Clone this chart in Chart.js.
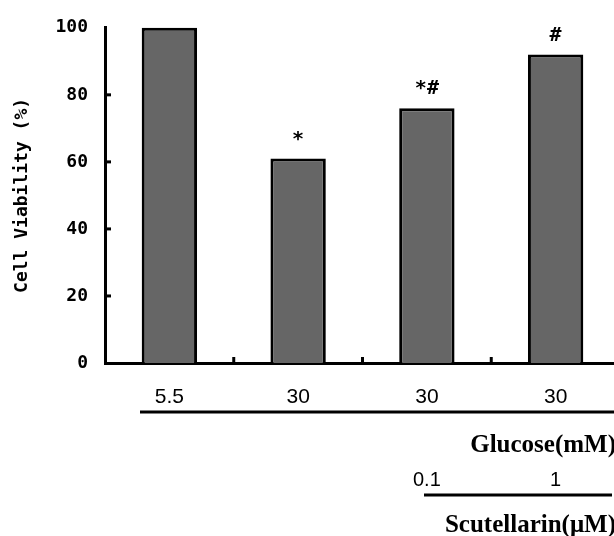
<!DOCTYPE html>
<html>
<head>
<meta charset="utf-8">
<script src="https://cdn.jsdelivr.net/npm/chart.js@4"></script>
<style>
  html, body { margin: 0; padding: 0; background: #fff; overflow: hidden; }
  #wrap { width: 620px; height: 536px; }
</style>
</head>
<body>
<div id="wrap"><canvas id="chart" width="620" height="536"></canvas></div>
<script>
// glucose (mM) per group, scutellarin (uM) per group, viability (%)
const glucoseLabels = ["5.5", "30", "30", "30"];
const scutellarinLabels = ["", "", "0.1", "1"];
const viability = [100, 61, 76, 92];
const marks = ["", "*", "*#", "#"];
const yTicks = [0, 20, 40, 60, 80, 100];

// inward axis ticks, significance marks and the two-row group legend under the axis
const extrasPlugin = {
  id: "extras",
  afterDraw(chart) {
    const ctx = chart.ctx;
    const x = chart.scales.x, y = chart.scales.y;
    const area = chart.chartArea;
    ctx.save();
    ctx.strokeStyle = "#000";
    ctx.fillStyle = "#000";
    ctx.lineWidth = 3;
    // y ticks pointing right
    yTicks.slice(1, -1).forEach(v => {
      const py = y.getPixelForValue(v);
      ctx.beginPath();
      ctx.moveTo(area.left, py);
      ctx.lineTo(area.left + 6, py);
      ctx.stroke();
    });
    // x ticks at category boundaries, pointing up
    for (let i = 1; i < glucoseLabels.length; i++) {
      const px = (x.getPixelForValue(i - 1) + x.getPixelForValue(i)) / 2;
      ctx.beginPath();
      ctx.moveTo(px, area.bottom);
      ctx.lineTo(px, area.bottom - 6);
      ctx.stroke();
    }
    // significance marks
    const meta = chart.getDatasetMeta(0);
    ctx.font = "bold 20px 'DejaVu Sans Mono'";
    ctx.textAlign = "center";
    ctx.textBaseline = "alphabetic";
    marks.forEach((m, i) => {
      if (!m) return;
      const bar = meta.data[i];
      ctx.fillText(m, bar.x, bar.y - 14);
    });
    // glucose underline and title
    ctx.lineWidth = 3;
    ctx.beginPath();
    ctx.moveTo(140, 412);
    ctx.lineTo(620, 412);
    ctx.stroke();
    ctx.font = "bold 25px 'Liberation Serif'";
    ctx.textAlign = "right";
    ctx.fillText("Glucose(mM)", 616, 452);
    // scutellarin labels
    ctx.font = "20px 'Liberation Sans'";
    ctx.textAlign = "center";
    scutellarinLabels.forEach((s, i) => {
      if (!s) return;
      ctx.fillText(s, x.getPixelForValue(i), 486);
    });
    ctx.beginPath();
    ctx.moveTo(424, 495);
    ctx.lineTo(612, 495);
    ctx.stroke();
    ctx.font = "bold 25px 'Liberation Serif'";
    ctx.textAlign = "right";
    ctx.fillText("Scutellarin(\u03bcM)", 616, 532);
    ctx.restore();
  }
};

new Chart(document.getElementById("chart"), {
  type: "bar",
  data: {
    labels: glucoseLabels,
    datasets: [{
      data: viability,
      backgroundColor: "#666666",
      borderColor: "#000000",
      borderWidth: 3,
      borderSkipped: "bottom",
      barPercentage: 0.43,
      categoryPercentage: 1.0,
      clip: false,
    }]
  },
  options: {
    responsive: false,
    animation: false,
    layout: { padding: { top: 27, left: 0, right: 0, bottom: 0 } },
    plugins: { legend: { display: false }, tooltip: { enabled: false } },
    scales: {
      x: {
        grid: { display: false, drawTicks: false },
        border: { color: "#000", width: 3 },
        ticks: { color: "#000", padding: 22, font: { family: "Liberation Sans", size: 21 } },
        afterFit(s) { s.height = 536 - 363; },
      },
      y: {
        min: 0, max: 100,
        grid: { display: false, drawTicks: false },
        border: { color: "#000", width: 3 },
        afterBuildTicks(s) { s.ticks = yTicks.map(v => ({ value: v })); },
        ticks: { color: "#000", padding: 17, font: { family: "DejaVu Sans Mono", size: 18, weight: "bold" } },
        title: {
          display: true, text: "Cell Viability (%)", color: "#000", padding: { top: 12, bottom: 0 },
          font: { family: "DejaVu Sans Mono", size: 18, weight: "bold" }
        },
        afterFit(s) { s.width = 105; },
      }
    }
  },
  plugins: [extrasPlugin]
});
</script>
</body>
</html>
